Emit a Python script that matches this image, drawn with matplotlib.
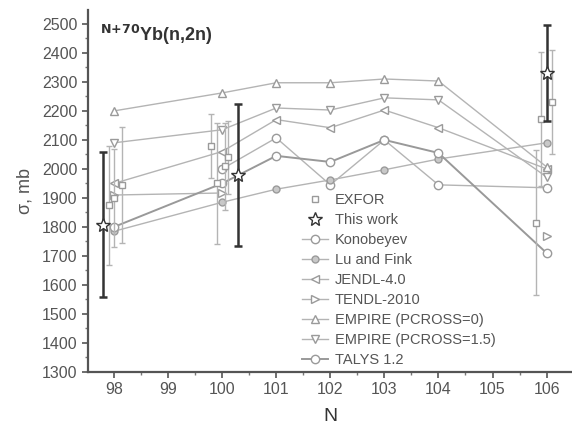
import matplotlib
matplotlib.use("Agg")
import matplotlib.pyplot as plt
from matplotlib.ticker import MultipleLocator
from matplotlib.lines import Line2D
import numpy as np

plt.rcParams['font.family'] = ['Liberation Sans', 'DejaVu Sans']

# neutron number N for the model curves
n_models = [98, 100, 101, 102, 103, 104, 106]

konobeyev_n = [100, 101, 102, 103, 104, 106]
konobeyev = [2000, 2107, 1945, 2100, 1945, 1935]
lu_fink = [1785, 1885, 1930, 1962, 1997, 2034, 2090]
jendl = [1950, 2060, 2170, 2142, 2203, 2142, 2000]
# TENDL only given at 98, 100 and 106
tendl = [1910, 1917, np.nan, np.nan, np.nan, np.nan, 1770]
empire0 = [2200, 2262, 2297, 2297, 2310, 2303, 2007]
empire15 = [2090, 2135, 2210, 2203, 2245, 2238, 1972]
talys = [1800, 1950, 2045, 2024, 2100, 2055, 1710]

# EXFOR measurements (slightly shifted in N in the original plot)
exfor_n = [97.9, 98.0, 98.15, 99.8, 99.9, 100.05, 100.1, 105.8, 105.9, 106.1]
exfor = [1875, 1900, 1945, 2080, 1950, 2010, 2040, 1815, 2172, 2231]
exfor_err = [205, 170, 200, 110, 210, 150, 125, 250, 230, 180]

# this work
this_n = [97.8, 100.3, 106.0]
this_sig = [1807, 1979, 2330]
this_err = [250, 245, 165]

fig = plt.figure(figsize=(5.72, 4.33), dpi=100)
ax = fig.add_axes([0.154, 0.141, 0.846, 0.836])

grey = '#9a9a9a'
light = '#b4b4b4'

ax.errorbar(exfor_n, exfor, yerr=exfor_err, fmt='s', ms=5, mfc='white', mec=grey,
            ecolor=light, elinewidth=1, capsize=2.5, capthick=1, zorder=3)
ax.errorbar(this_n, this_sig, yerr=this_err, fmt='*', ms=10, mfc='white', mec='#333333',
            ecolor='#333333', elinewidth=1.8, capsize=3, capthick=1.8, zorder=5)

h_kon, = ax.plot(konobeyev_n, konobeyev, '-o', color=light, mec=grey, mfc='white', ms=6, lw=1, label='Konobeyev')
h_lu, = ax.plot(n_models, lu_fink, '-o', color=light, mec=grey, mfc='#c8c8c8', ms=5, lw=1, label='Lu and Fink')
h_jendl, = ax.plot(n_models, jendl, '-<', color=light, mec=grey, mfc='white', ms=6, lw=1, label='JENDL-4.0')
h_tendl, = ax.plot(n_models, tendl, '->', color=light, mec=grey, mfc='white', ms=6, lw=1, label='TENDL-2010')
h_e0, = ax.plot(n_models, empire0, '-^', color=light, mec=grey, mfc='white', ms=6, lw=1, label='EMPIRE (PCROSS=0)')
h_e15, = ax.plot(n_models, empire15, '-v', color=light, mec=grey, mfc='white', ms=6, lw=1, label='EMPIRE (PCROSS=1.5)')
h_tal, = ax.plot(n_models, talys, '-o', color='#999999', mec=grey, mfc='white', ms=6, lw=1.4, label='TALYS 1.2')

h_exf = Line2D([], [], ls='none', marker='s', ms=5, mfc='white', mec=grey, label='EXFOR')
h_this = Line2D([], [], ls='none', marker='*', ms=10, mfc='white', mec='#333333', label='This work')

ax.set_xlim(97.52, 106.47)
ax.set_ylim(1300, 2548)
ax.xaxis.set_major_locator(MultipleLocator(1))
ax.xaxis.set_minor_locator(MultipleLocator(0.5))
ax.yaxis.set_minor_locator(MultipleLocator(50))
ax.set_yticks(range(1300, 2501, 100))

for s in ['top', 'right']:
    ax.spines[s].set_visible(False)
for s in ['left', 'bottom']:
    ax.spines[s].set_linewidth(1.6)
    ax.spines[s].set_color('#555555')
ax.tick_params(which='major', direction='out', length=4, width=1.2, colors='#555555',
               labelsize=11.5, labelcolor='#555555')
ax.tick_params(which='minor', direction='out', length=2.5, width=1, colors='#777777')

ax.set_xlabel('N', fontsize=14, color='#333333', labelpad=8)
ax.set_ylabel('σ, mb', fontsize=13, color='#555555', labelpad=6)

ax.text(0.025, 0.965, r'$^{\mathbf{N{+}70}}$Yb(n,2n)', transform=ax.transAxes,
        fontsize=13, fontweight='bold', color='#333333', va='top', ha='left')

handles = [h_exf, h_this, h_kon, h_lu, h_jendl, h_tendl, h_e0, h_e15, h_tal]
leg = ax.legend(handles=handles, loc='lower left', bbox_to_anchor=(0.42, -0.014), frameon=False,
                fontsize=10.5, labelspacing=0.41, handlelength=1.8, handletextpad=0.5,
                borderpad=0.2, numpoints=1)
for t in leg.get_texts():
    t.set_color('#555555')

fig.savefig('out.png', dpi=100)
